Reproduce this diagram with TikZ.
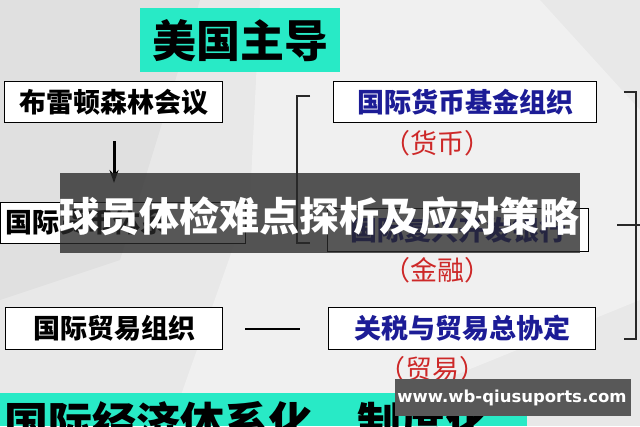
\documentclass[tikz,border=0pt]{standalone}
\usepackage{fontspec}
\newfontfamily\cjk{Noto Sans CJK SC}
\newfontfamily\wmfont{DejaVu Sans}
\usetikzlibrary{arrows.meta}
\definecolor{bgc}{RGB}{232,232,232}
\definecolor{tealc}{RGB}{40,234,198}
\definecolor{navy}{RGB}{28,28,150}
\definecolor{redt}{RGB}{205,40,40}
\definecolor{bannerc}{RGB}{40,40,40}
\definecolor{wmc}{RGB}{88,88,88}
\definecolor{brk}{RGB}{40,40,40}
\tikzset{
  box/.style={draw=black,line width=1.3pt,fill=white,inner sep=0pt,
    font=\cjk\bfseries\fontsize{27}{27}\selectfont},
  bluetxt/.style={text=navy},
  redlbl/.style={text=redt,inner sep=0pt,font=\cjk\fontsize{27}{27}\selectfont},
  bracket/.style={draw=brk,line width=1.2pt},
  plain/.style={inner sep=0pt}
}
\begin{document}
\begin{tikzpicture}[x=1pt,y=-1pt]
\useasboundingbox (0,0) rectangle (640,426);
\clip (0,0) rectangle (640,426);
% background
\fill[bgc] (0,0) rectangle (640,426);
\fill[white,opacity=0.35] (260,0) -- (540,0) -- (640,110) -- (640,300) -- (330,426) -- (170,426) -- (250,200) -- cycle;
\fill[black,opacity=0.03] (0,0) -- (200,0) -- (120,260) -- (0,300) -- cycle;

% title box
\node[plain,fill=tealc,minimum width=200pt,minimum height=64pt,anchor=north west,
  font=\cjk\bfseries\fontsize{44}{44}\selectfont] (title) at (140,8) {美国主导};

% left column
\node[box,minimum width=218pt,minimum height=41pt,anchor=north west] (bw) at (4,81) {布雷顿森林会议};
\node[box,minimum width=245pt,minimum height=41pt,anchor=north west] (imsbox) at (0,202) {};
\node[plain,anchor=west,font=\cjk\bfseries\fontsize{27}{27}\selectfont] (imstxt) at (5,222) {国际货币体系};
\node[box,minimum width=217pt,minimum height=42pt,anchor=north west] (ito) at (5,307) {国际贸易组织};

% right column
\node[box,bluetxt,minimum width=263pt,minimum height=41pt,anchor=north west] (imf) at (333,81) {国际货币基金组织};
\node[redlbl] (huobi) at (437,143) {（货币）};
\node[box,bluetxt,minimum width=261pt,minimum height=43pt,anchor=north west] (wb) at (327,208) {国际复兴开发银行};
\node[redlbl] (jinrong) at (437,270) {（金融）};
\node[box,bluetxt,minimum width=267pt,minimum height=42pt,anchor=north west] (gatt) at (328,307) {关税与贸易总协定};
\node[redlbl] (maoyi) at (432,369) {（贸易）};

% arrow
\coordinate (arrEnd) at (114,183);
\draw[line width=3pt,-{Stealth[length=13pt,width=9pt]}] (bw.south -| arrEnd) ++(0,18) -- (arrEnd);

% connector line
\coordinate (lnA) at (245,329);
\coordinate (lnB) at (300,329);
\draw[line width=1.2pt] (lnA) -- (lnB);

% left bracket
\coordinate (lbT) at (310,96);
\coordinate (lbB) at (310,243);
\draw[bracket] (lbT) -- ++(-13,0) |- (lbB);

% right bracket
\coordinate (rbT) at (624,92);
\coordinate (rbB) at (624,339);
\coordinate (rbM) at (617,225);
\draw[bracket] (rbT) -- ++(12,0) |- (rbB);
\draw[bracket] (rbM) -- ++(23,0);

% bottom teal band
\fill[tealc] (0,393) rectangle (527,426);
\node[plain,anchor=north west,font=\cjk\bfseries\fontsize{44}{44}\selectfont] (bt1) at (4,401) {国际经济体系化};
\node[plain,anchor=north west,font=\cjk\bfseries\fontsize{44}{44}\selectfont] (bt2) at (357,401) {制度化};

% overlay banner
\fill[bannerc,opacity=0.78] (60,173) rectangle (580,253);
\node[plain,text=white,font=\cjk\bfseries\fontsize{40}{40}\selectfont] (banner) at (319,216) {球员体检难点探析及应对策略};

% watermark
\node[plain,fill=wmc,minimum width=236pt,minimum height=37pt,anchor=north west] (wm) at (395,379) {};
\node[plain,text=white,font=\wmfont\bfseries\fontsize{16.5}{16.5}\selectfont] (wmt) at (512,398) {www.wb-qiusuports.com};
\end{tikzpicture}
\end{document}
